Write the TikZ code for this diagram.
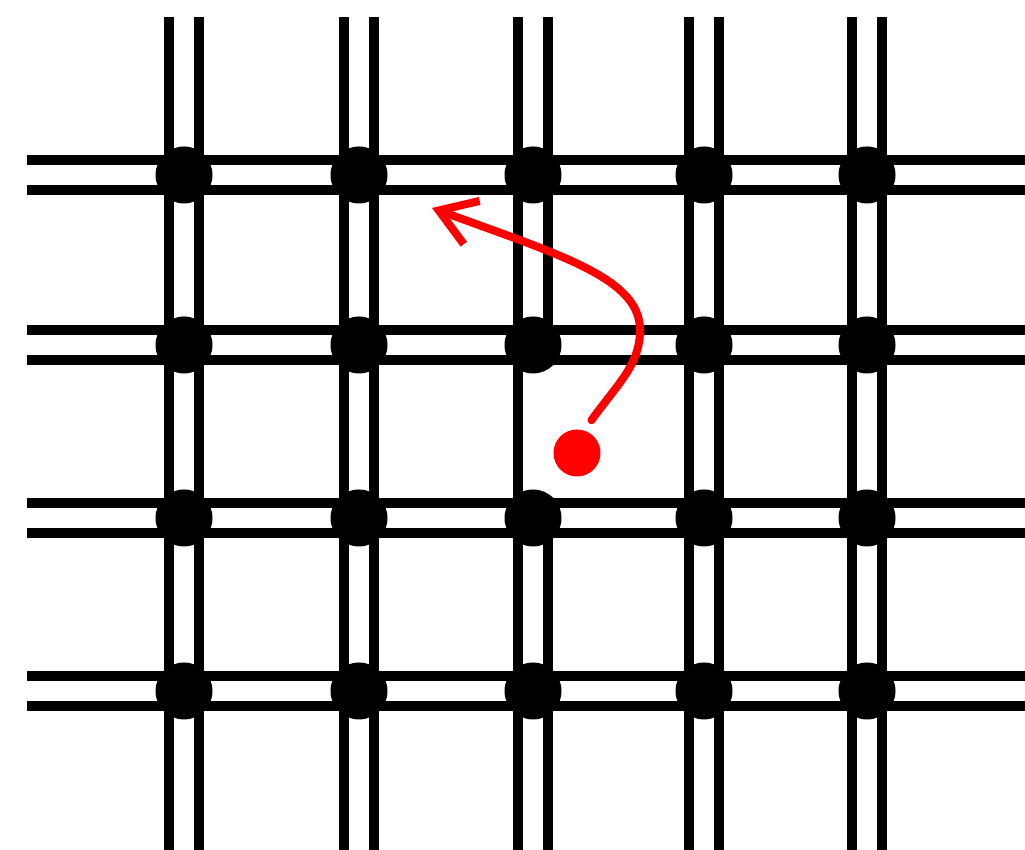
\documentclass[tikz,border=0pt]{standalone}
\usepackage{tikz}
\usetikzlibrary{
	arrows.meta,
	positioning,
	backgrounds
}
\usepackage{xcolor}

\begin{document}
\begin{tikzpicture}[
		>=Stealth,
		bond/.style={
			draw,
			line width=1mm,
			double,
			double distance=2mm
		},
		atom/.style={
			circle,
			fill,
			minimum size=5.7mm,
			inner sep=0pt
		},
		charge/.style={
			circle,
			fill=red,
			minimum size=4.7mm,
			inner sep=0pt
		}
		]
		
		\useasboundingbox (0,0) rectangle (10.25,8.5);
		
		% Lattice sites
		\foreach \x [count=\i] in {1.84,3.59,5.33,7.04,8.67}
		\foreach \y [count=\j] in {6.75,5.05,3.32,1.59}
		\node[atom] (a\i\j) at (\x,\y) {};
		
		% Free ends of the bonds
		\foreach \x [count=\i] in {1.84,3.59,5.33,7.04,8.67}
		{
			\coordinate (top\i) at (\x,8.33);
			\coordinate (bot\i) at (\x,0);
		}
		\foreach \y [count=\j] in {6.75,5.05,3.32,1.59}
		{
			\coordinate (left\j) at (0.27,\y);
			\coordinate (right\j) at (10.25,\y);
		}
		
		\begin{scope}[on background layer]
			% Vertical bonds
			\foreach \i in {1,...,5}
			{
				\draw[bond] (top\i) -- (a\i1.center);
				\draw[bond] (a\i1.center) -- (a\i2.center);
				\draw[bond] (a\i3.center) -- (a\i4.center);
				\draw[bond] (a\i4.center) -- (bot\i);
			}
			\foreach \i in {1,2,4,5}
			\draw[bond] (a\i2.center) -- (a\i3.center);
			
			% Broken bond
			\draw[line width=1mm]
			([xshift=-1.5mm]a32.center)
			-- ([xshift=-1.5mm]a33.center);
			
			% Horizontal bonds
			\foreach \j in {1,...,4}
			{
				\draw[bond] (left\j) -- (a1\j.center);
				\draw[bond] (a1\j.center) -- (a2\j.center);
				\draw[bond] (a2\j.center) -- (a3\j.center);
				\draw[bond] (a3\j.center) -- (a4\j.center);
				\draw[bond] (a4\j.center) -- (a5\j.center);
				\draw[bond] (a5\j.center) -- (right\j);
			}
		\end{scope}
		
		% Hopping charge
		\node[charge] (hole) at (5.77,3.97) {};
		\coordinate (hop) at (4.32,6.42);
		
		\draw[red, line width=0.8mm, line cap=round,
		-{Straight Barb[length=3.5mm,width=4.6mm]}, shorten <=1.2mm]
		(hole.72) .. controls (6.175,4.66) and (6.40,4.85) .. (6.40,5.20)
		.. controls (6.40,5.72) and (5.6,5.95) .. (hop);
		
	\end{tikzpicture}
\end{document}
